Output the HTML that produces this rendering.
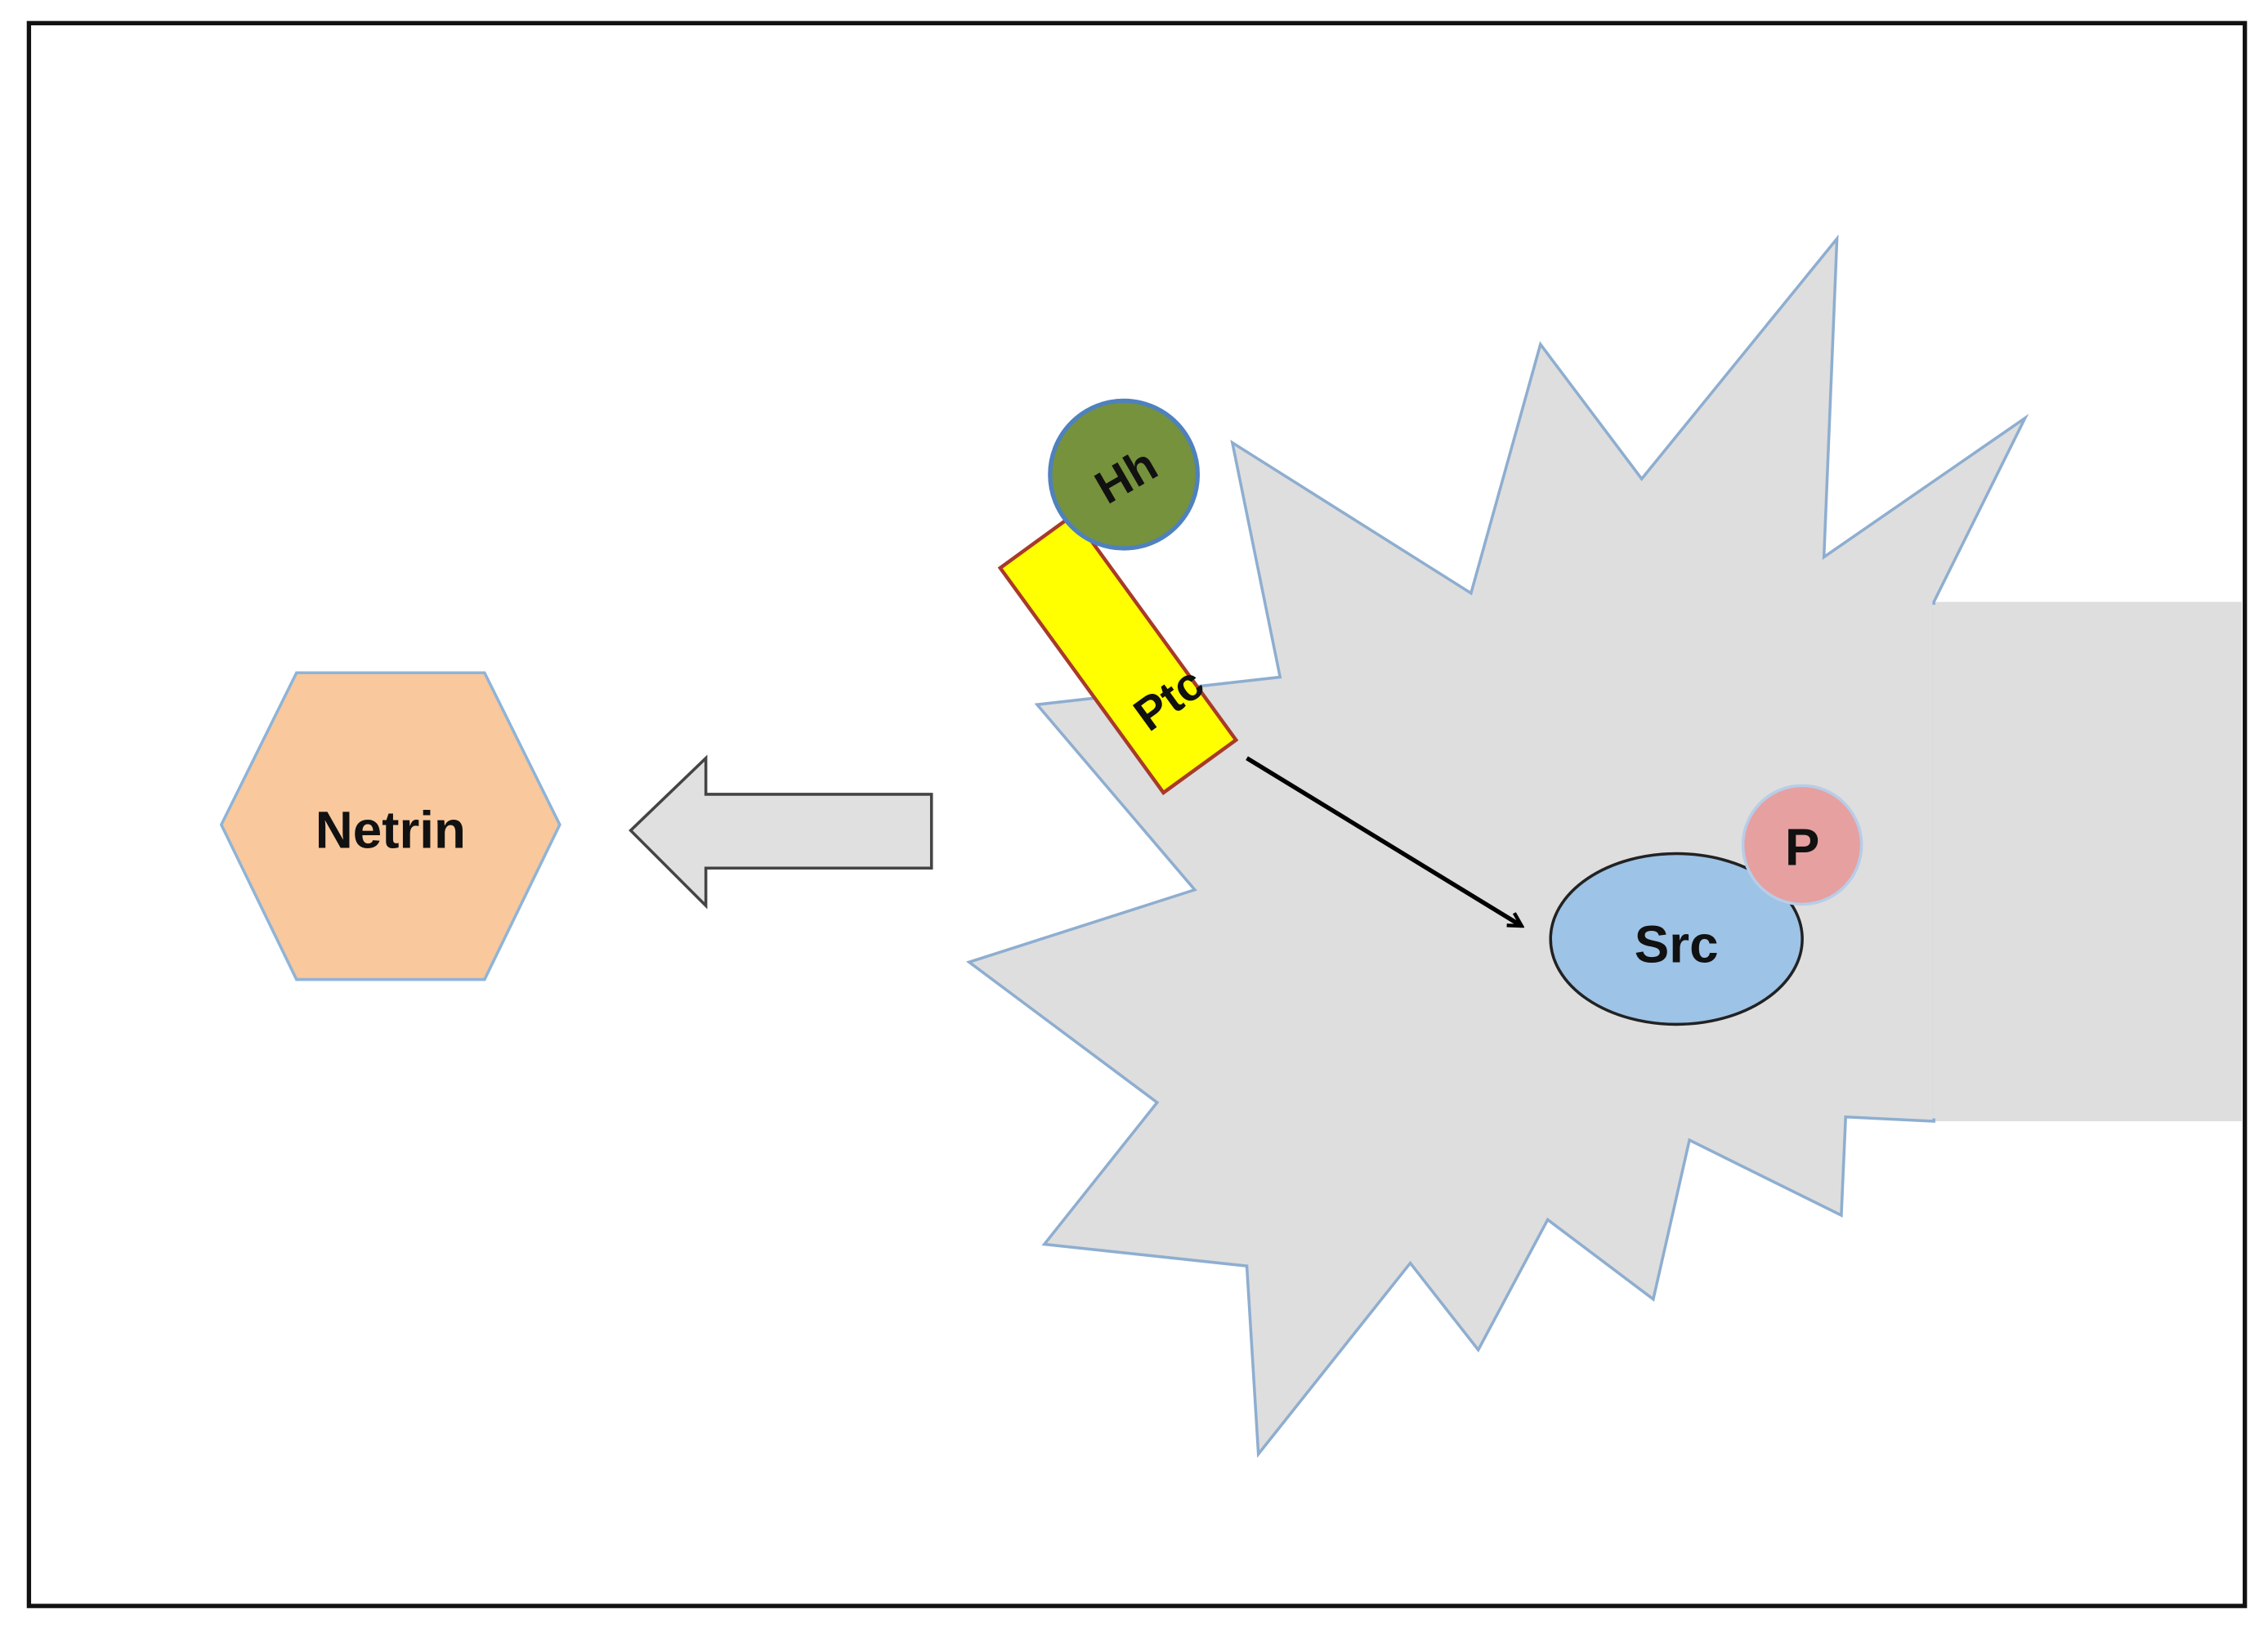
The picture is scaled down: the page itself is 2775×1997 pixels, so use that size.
<!DOCTYPE html>
<html><head><meta charset="utf-8"><style>
html,body{margin:0;padding:0;background:#fff;}
svg{display:block;}
text{font-family:"Liberation Sans",sans-serif;font-weight:bold;fill:#111;}
</style></head><body>
<svg width="2775" height="1997" viewBox="0 0 1568 1128" preserveAspectRatio="none" xmlns="http://www.w3.org/2000/svg">
<defs><marker id="ah" markerWidth="12" markerHeight="12" refX="10" refY="6" orient="auto" markerUnits="userSpaceOnUse"><path d="M1,1 L10,6 L1,11" fill="none" stroke="#000" stroke-width="2.5"/></marker></defs>
<rect x="20" y="16" width="1532" height="1094" fill="#fff" stroke="#111" stroke-width="3"/>
<polygon points="153,570 205,465 335,465 387,570 335,677 205,677" fill="#f9c89c" stroke="#8eb4d8" stroke-width="2"/>
<text x="270" y="586" font-size="36" text-anchor="middle">Netrin</text>
<polygon points="436,574 488,524 488,549 644,549 644,600 488,600 488,626" fill="#e0e0e0" stroke="#444" stroke-width="2"/>
<rect x="1330" y="416" width="220" height="359" fill="#dedede"/>
<polygon points="717,487 885,468 852,306 1017,410 1065,238 1135,331 1270,165 1261,385 1400,289 1337,416 1337,775 1276,772 1273,840 1168,788 1143,898 1070,843 1022,933 975,873 870,1005 862,875 722,860 800,762 670,665 826,615" fill="#dedede" stroke="#8eaed0" stroke-width="2"/>
<rect x="1336" y="418" width="212" height="355" fill="#dedede"/>
<g transform="translate(773,452) rotate(-36)">
<rect x="-31" y="-96" width="62" height="192" fill="#ffff00" stroke="#a83a2a" stroke-width="2.5"/>
</g>
<text x="808" y="494" font-size="32" text-anchor="middle" transform="rotate(-36 808 483)">Ptc</text>
<circle cx="777" cy="328" r="51" fill="#76923c" stroke="#4f81bd" stroke-width="3"/>
<text x="778" y="340" font-size="32" text-anchor="middle" transform="rotate(-30 778 328)">Hh</text>
<line x1="862" y1="524" x2="1052" y2="640" stroke="#000" stroke-width="3" marker-end="url(#ah)"/>
<ellipse cx="1159" cy="649" rx="87" ry="59" fill="#9dc3e6" stroke="#222" stroke-width="2"/>
<text x="1159" y="665" font-size="36" text-anchor="middle">Src</text>
<circle cx="1246" cy="584" r="41" fill="#e6a0a0" stroke="#b7cde8" stroke-width="2"/>
<text x="1246" y="598" font-size="36" text-anchor="middle">P</text>
</svg>
</body></html>
